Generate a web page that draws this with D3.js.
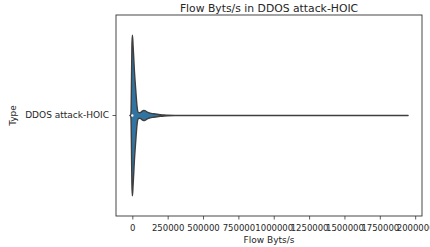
<!DOCTYPE html>
<html>
<head>
<meta charset="utf-8">
<script src="https://cdn.jsdelivr.net/npm/d3@7"></script>
<style>
	body { margin: 0; background: #fff; }
	svg text { font-family: "DejaVu Sans", sans-serif; fill: #262626; }
</style>
</head>
<body>
<div id="chart"></div>
<script>
// violin of Flow Byts/s, density scaled 0..1
var categories = ["DDOS attack-HOIC"];
var flowValues = [-17000, -12000, -9000, -6000, -3000, 0, 3000, 6000, 10000, 15000, 20000, 25000, 30000, 35000, 40000, 50000, 60000, 70000, 80000, 90000, 100000, 110000, 125000, 150000, 175000, 200000, 225000, 250000, 300000, 500000, 900000, 1000000, 1100000, 1400000, 1800000, 1950000];
var densities = [0, 0.005, 0.05, 0.4, 0.85, 1.0, 0.95, 0.85, 0.72, 0.55, 0.42, 0.3, 0.18, 0.09, 0.045, 0.035, 0.04, 0.055, 0.062, 0.06, 0.048, 0.038, 0.03, 0.022, 0.015, 0.01, 0.006, 0.003, 0.001, 0.0005, 0.0015, 0.002, 0.0015, 0.0004, 0.0003, 0];
var medianValue = 0;
var xTicks = [0, 250000, 500000, 750000, 1000000, 1250000, 1500000, 1750000, 2000000];

var width = 430, height = 247;
var margin = {left: 116, right: 8, top: 15, bottom: 31};

var svg = d3.select("#chart").append("svg")
	.attr("width", width)
	.attr("height", height);

// matplotlib style 5% margins round the violin extent
var ext = d3.extent(flowValues);
var pad = (ext[1] - ext[0]) * 0.05;
var x = d3.scaleLinear()
	.domain([ext[0] - pad, ext[1] + pad])
	.range([margin.left, width - margin.right]);
var y = d3.scaleBand()
	.domain(categories)
	.range([margin.top, height - margin.bottom]);

var half = y.bandwidth() * 0.4;
var cy = y(categories[0]) + y.bandwidth() / 2;

var area = d3.area()
	.x(function (d, i) { return x(flowValues[i]); })
	.y0(function (d) { return cy - d * half; })
	.y1(function (d) { return cy + d * half; })
	.curve(d3.curveMonotoneX);

svg.append("path")
	.datum(densities)
	.attr("d", area)
	.attr("fill", "#3274a1")
	.attr("stroke", "#3f3f3f")
	.attr("stroke-width", 1.4)
	.attr("stroke-linejoin", "round");

// inner box: whisker + median dot
svg.append("line")
	.attr("x1", x(-9000)).attr("x2", x(9000))
	.attr("y1", cy).attr("y2", cy)
	.attr("stroke", "#3f3f3f")
	.attr("stroke-width", 1);
svg.append("circle")
	.attr("cx", x(medianValue))
	.attr("cy", cy)
	.attr("r", 1.2)
	.attr("fill", "#fff");

// frame
svg.append("rect")
	.attr("x", margin.left)
	.attr("y", margin.top)
	.attr("width", width - margin.left - margin.right)
	.attr("height", height - margin.top - margin.bottom)
	.attr("fill", "none")
	.attr("stroke", "#333")
	.attr("stroke-width", 0.9);

var xAxis = svg.append("g")
	.attr("transform", "translate(0," + (height - margin.bottom) + ")")
	.call(d3.axisBottom(x).tickValues(xTicks).tickFormat(d3.format("d")).tickSize(3.5).tickPadding(5));
var yAxis = svg.append("g")
	.attr("transform", "translate(" + margin.left + ",0)")
	.call(d3.axisLeft(y).tickSize(3.5).tickPadding(3.5));

[xAxis, yAxis].forEach(function (g) {
	g.select(".domain").remove();
	g.selectAll(".tick line").attr("stroke", "#333").attr("stroke-width", 0.8);
	g.selectAll(".tick text").style("font-size", "9px").attr("fill", "#262626");
});
xAxis.selectAll(".tick text").style("font-size", "8.5px");

svg.append("text")
	.attr("x", (margin.left + width - margin.right) / 2)
	.attr("y", 12)
	.attr("text-anchor", "middle")
	.style("font-size", "10.8px")
	.text("Flow Byts/s in DDOS attack-HOIC");

svg.append("text")
	.attr("x", (margin.left + width - margin.right) / 2)
	.attr("y", 243)
	.attr("text-anchor", "middle")
	.style("font-size", "9px")
	.text("Flow Byts/s");

svg.append("text")
	.attr("transform", "translate(16," + cy + ") rotate(-90)")
	.attr("text-anchor", "middle")
	.style("font-size", "9px")
	.text("Type");
</script>
</body>
</html>
